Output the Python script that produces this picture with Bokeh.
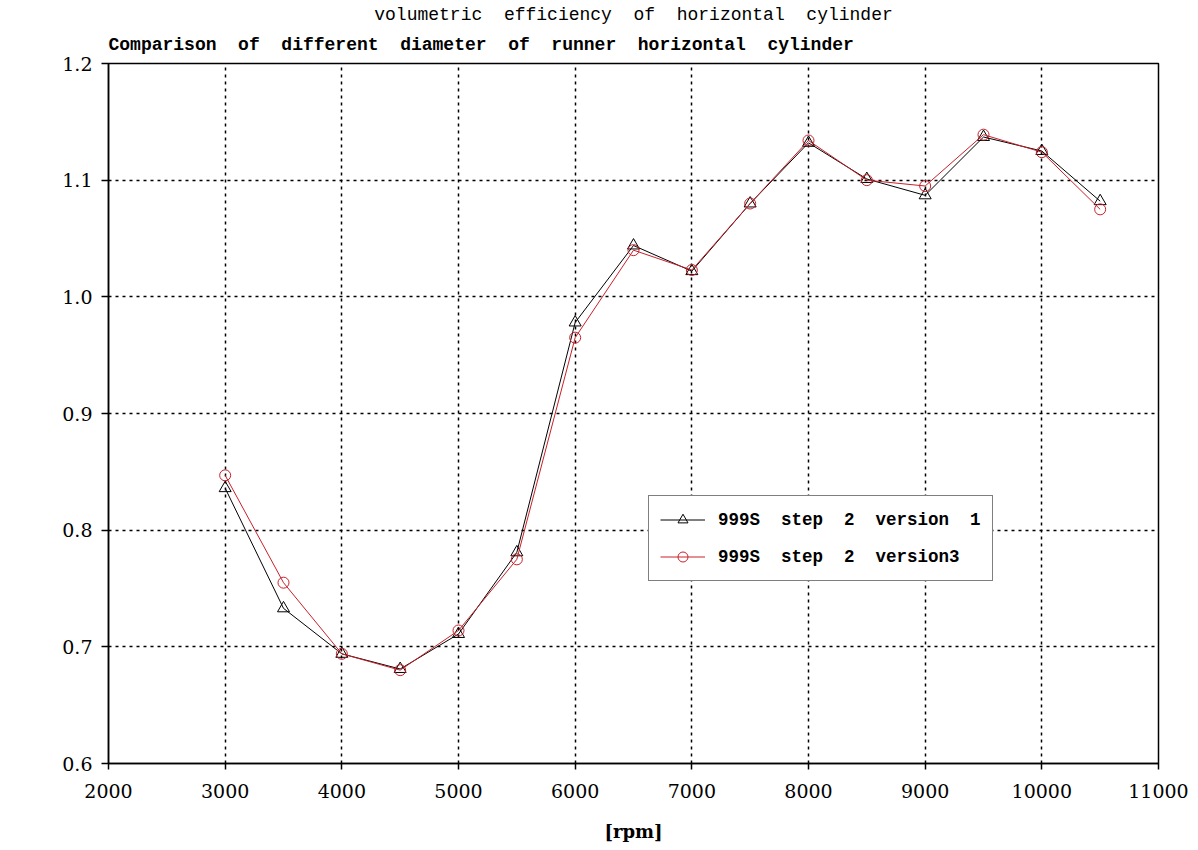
from bokeh.plotting import figure
from bokeh.models import Title, Range1d, FixedTicker, NumeralTickFormatter, Legend, LegendItem
from bokeh.embed import file_html
from bokeh.resources import INLINE

# ---- data ----
rpm = [3000, 3500, 4000, 4500, 5000, 5500, 6000, 6500, 7000, 7500, 8000, 8500, 9000, 9500, 10000, 10500]
version1 = [0.836, 0.733, 0.694, 0.681, 0.711, 0.781, 0.978, 1.044, 1.022, 1.080, 1.132, 1.101, 1.087, 1.137, 1.125, 1.082]
version3 = [0.847, 0.755, 0.694, 0.680, 0.714, 0.775, 0.965, 1.040, 1.023, 1.080, 1.134, 1.100, 1.095, 1.139, 1.124, 1.075]
x_ticks = [2000, 3000, 4000, 5000, 6000, 7000, 8000, 9000, 10000, 11000]
y_ticks = [0.6, 0.7, 0.8, 0.9, 1.0, 1.1, 1.2]
label1 = "999S  step  2  version  1"
label3 = "999S  step  2  version3"
title_main = "volumetric \u00a0efficiency \u00a0of \u00a0horizontal \u00a0cylinder"
title_sub = "Comparison \u00a0of \u00a0different \u00a0diameter \u00a0of \u00a0runner \u00a0horizontal \u00a0cylinder"
x_label = "[rpm]"

RED = "#c8202a"
MONO = "Liberation Mono"
SERIF = "DejaVu Serif"

p = figure(width=1190, height=846, output_backend="svg", toolbar_location=None,
           x_range=Range1d(2000, 11000), y_range=Range1d(0.6, 1.2),
           min_border_left=108, min_border_right=32, min_border_top=63, min_border_bottom=83,
           title=None)

p.outline_line_color = "black"
p.outline_line_width = 1.5
p.background_fill_color = "white"
p.border_fill_color = "white"

# titles (first added sits closest to the frame)
sub = Title(text=title_sub, align="left", text_font=MONO, text_font_size="18px",
            text_font_style="bold", text_color="black", standoff=17)
p.add_layout(sub, "above")
main = Title(text=title_main, align="center", text_font=MONO, text_font_size="18px",
             text_font_style="normal", text_color="black", standoff=0)
p.add_layout(main, "above")

# axes
for ax in (p.xaxis[0], p.yaxis[0]):
    ax.axis_line_color = "black"
    ax.axis_line_width = 1.5
    ax.major_tick_line_color = "black"
    ax.major_tick_line_width = 1.5
    ax.major_tick_in = 0
    ax.minor_tick_line_color = None
    ax.major_label_text_font = SERIF
    ax.major_label_text_font_size = "19px"
    ax.major_label_text_color = "black"

p.xaxis.ticker = FixedTicker(ticks=x_ticks)
p.yaxis.ticker = FixedTicker(ticks=y_ticks)
p.yaxis.formatter = NumeralTickFormatter(format="0.0")
p.xaxis.major_tick_out = 6
p.yaxis.major_tick_out = 7
p.xaxis.major_label_standoff = 14
p.yaxis.major_label_standoff = 9
p.xaxis.axis_label = x_label
p.xaxis.axis_label_text_font = SERIF
p.xaxis.axis_label_text_font_size = "18px"
p.xaxis.axis_label_text_font_style = "bold"
p.xaxis.axis_label_text_color = "black"
p.xaxis.axis_label_standoff = 20

# grid
for g in (p.xgrid[0], p.ygrid[0]):
    g.grid_line_color = "black"
    g.grid_line_width = 1.5
    g.grid_line_dash = "3 4"
p.xgrid.ticker = FixedTicker(ticks=x_ticks[1:-1])
p.ygrid.ticker = FixedTicker(ticks=y_ticks[1:-1])

# series
l1 = p.line(rpm, version1, line_color="black", line_width=1)
s1 = p.scatter(rpm, version1, marker="triangle", size=12, fill_color=None,
               line_color="black", line_width=1)
l3 = p.line(rpm, version3, line_color=RED, line_width=1)
s3 = p.scatter(rpm, version3, marker="circle", size=11, fill_color=None,
               line_color=RED, line_width=1)

legend = Legend(items=[LegendItem(label=label1, renderers=[l1, s1]),
                       LegendItem(label=label3, renderers=[l3, s3])],
                location=(540, 182))
legend.label_text_font = MONO
legend.label_text_font_size = "17.5px"
legend.label_text_font_style = "bold"
legend.label_text_color = "black"
legend.border_line_color = "black"
legend.border_line_width = 1.5
legend.background_fill_color = "white"
legend.background_fill_alpha = 1
legend.glyph_width = 45
legend.glyph_height = 25
legend.label_height = 25
legend.label_standoff = 13
legend.spacing = 12
legend.padding = 11
legend.margin = 0
p.add_layout(legend, "center")

open("out.html", "w").write(file_html(p, INLINE))
